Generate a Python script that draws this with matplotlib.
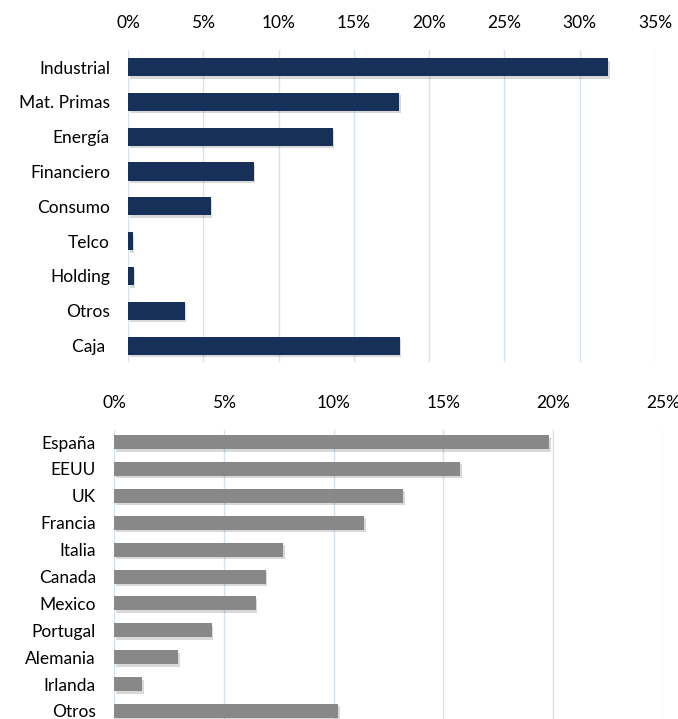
import matplotlib
matplotlib.use("Agg")
import matplotlib.pyplot as plt
import matplotlib.patheffects as pe
from matplotlib.ticker import FuncFormatter

plt.rcParams['font.family'] = ['Lato', 'DejaVu Sans']

sectors = ["Industrial", "Mat. Primas", "Energía", "Financiero", "Consumo",
           "Telco", "Holding", "Otros", "Caja "]
sector_values = [31.9, 18.0, 13.6, 8.35, 5.5, 0.32, 0.37, 3.77, 18.05]

countries = ["España", "EEUU", "UK", "Francia", "Italia", "Canada", "Mexico",
             "Portugal", "Alemania", "Irlanda", "Otros"]
country_values = [19.82, 15.77, 13.16, 11.39, 7.70, 6.90, 6.45, 4.44, 2.93, 1.29, 10.2]

top_ticks = [0, 5, 10, 15, 20, 25, 30, 35]
bottom_ticks = [0, 5, 10, 15, 20, 25]

W, H = 678, 719
fig = plt.figure(figsize=(W / 100, H / 100), dpi=100)

grid_color = "#D5E2F2"
pct = FuncFormatter(lambda v, p: f"{v:.0f}%")
shadow = [pe.SimplePatchShadow(offset=(1.2, -1.8), shadow_rgbFace="#000000", alpha=0.15), pe.Normal()]


def style(ax, ticks, labels, ylim):
    ax.set_xlim(ticks[0], ticks[-1])
    ax.set_xticks(ticks)
    ax.xaxis.set_major_formatter(pct)
    ax.xaxis.tick_top()
    ax.set_ylim(*ylim)
    ax.set_yticks(range(len(labels)))
    ax.set_yticklabels(labels)
    for s in ax.spines.values():
        s.set_visible(False)
    ax.tick_params(axis='x', length=0, pad=14, labelsize=12.5, colors="#000000")
    ax.tick_params(axis='y', length=0, pad=13, labelsize=12.5, colors="#000000")
    ax.grid(axis='x', color=grid_color, linewidth=1.0)
    ax.set_axisbelow(True)


ax1 = fig.add_axes([128 / W, 1 - 362 / H, (655 - 128) / W, (362 - 50) / H])
bars = ax1.barh(range(len(sectors)), sector_values, height=0.52, color="#17305A")
for b in bars:
    b.set_path_effects(shadow)
style(ax1, top_ticks, sectors, (8.47, -0.49))

ax2 = fig.add_axes([114 / W, 1 - 719 / H, (663 - 114) / W, (719 - 430) / H])
bars = ax2.barh(range(len(countries)), country_values, height=0.52, color="#888888")
for b in bars:
    b.set_path_effects(shadow)
style(ax2, bottom_ticks, countries, (10.3, -0.45))

fig.savefig("out.png", dpi=100)
